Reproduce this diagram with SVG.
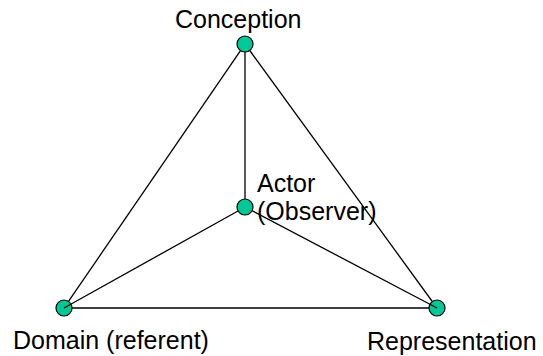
<svg xmlns="http://www.w3.org/2000/svg" width="543" height="356" viewBox="0 0 543 356">
<style>
.node circle{fill:#00C896;stroke:#000;stroke-width:1.2}
text{font-family:"Liberation Sans",Arial,sans-serif;font-size:25px;fill:#000}
.edges line{stroke:#000;stroke-width:1.3}
</style>
<rect width="543" height="356" fill="#fff"/>
<g id="conception" class="node">
<circle cx="245" cy="44" r="8"/>
<text x="175" y="28">Conception</text>
</g>
<g id="actor" class="node">
<circle cx="245" cy="207" r="8"/>
<text x="257" y="192">Actor</text>
<text x="257" y="220">(Observer)</text>
</g>
<g id="domain" class="node">
<circle cx="64" cy="308" r="8"/>
<text x="13" y="349">Domain (referent)</text>
</g>
<g id="representation" class="node">
<circle cx="437" cy="308" r="8"/>
<text x="367" y="350">Representation</text>
</g>
<g id="connectors" class="edges">
<line x1="245" y1="52" x2="245" y2="199"/>
<line x1="240.5" y1="50.6" x2="68.5" y2="301.4"/>
<line x1="249.7" y1="50.5" x2="432.3" y2="301.5"/>
<line x1="238" y1="211" x2="64" y2="308"/>
<line x1="252" y1="210.7" x2="437" y2="308"/>
<line x1="72" y1="308" x2="429" y2="308"/>
</g>
</svg>
